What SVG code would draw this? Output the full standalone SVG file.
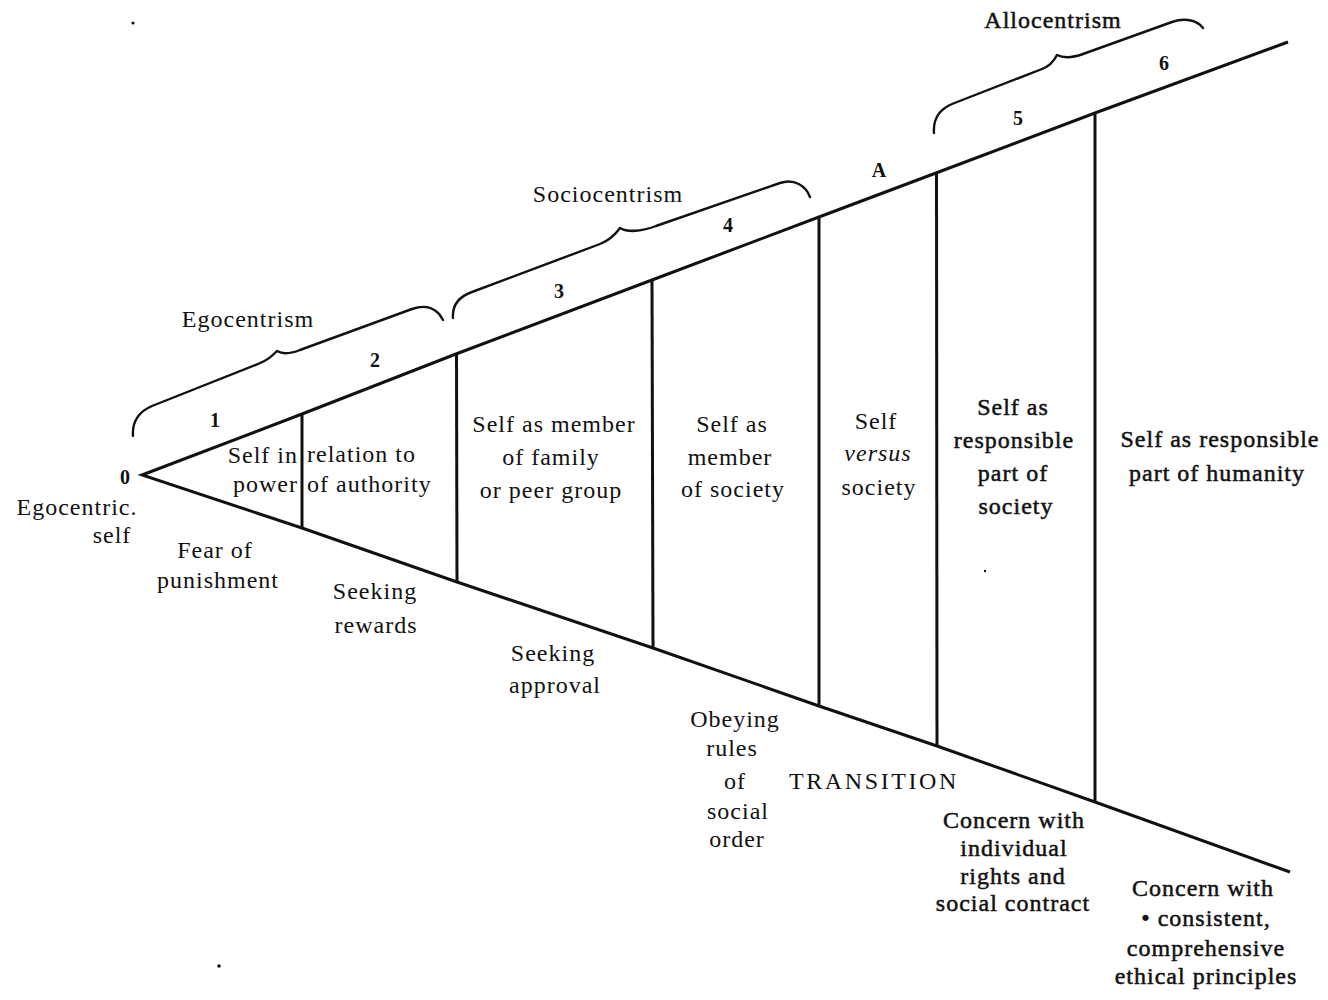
<svg xmlns="http://www.w3.org/2000/svg" width="1328" height="1000" viewBox="0 0 1328 1000">
  <style>
    .t { font-family: "Liberation Serif", "Times New Roman", serif; font-size: 24px; letter-spacing: 1px; fill: #111; text-anchor: middle; }
    .n { font-size: 20px; font-weight: bold; letter-spacing: 0; }
    .bold { stroke: #111; stroke-width: 0.5px; }
    .end { text-anchor: end; }
    .start { text-anchor: start; }
    .it { font-style: italic; }
    .wide { letter-spacing: 2.6px; }
    .ln { stroke: #111; stroke-width: 3; fill: none; stroke-linejoin: miter; stroke-linecap: butt; }
    .br { stroke: #111; stroke-width: 2.4; fill: none; stroke-linecap: round; stroke-linejoin: round; }
  </style>
  <rect width="1328" height="1000" fill="#fff"/>

  <!-- widening wedge: upper and lower edges from the apex -->
  <g id="wedge">
    <path class="ln" d="M 1288,42 L 1095,113 L 936,173 L 819,217 L 652,280 L 456,354 L 302,414 L 142,475 L 302,528 L 457,582 L 653,648 L 819,706 L 937,746 L 1095,802 L 1290,872"/>
  </g>

  <!-- stage dividers -->
  <g id="dividers">
    <line class="ln" x1="302" y1="414" x2="302" y2="528" stroke-width="2.6"/>
    <line class="ln" x1="456.5" y1="354" x2="457" y2="582"/>
    <line class="ln" x1="652" y1="280" x2="653" y2="648"/>
    <line class="ln" x1="819" y1="217" x2="819" y2="706"/>
    <line class="ln" x1="936.5" y1="173" x2="937" y2="746"/>
    <line class="ln" x1="1095" y1="113" x2="1095" y2="802"/>
  </g>

  <!-- braces grouping the stages -->
  <g id="braces">
    <path id="brace-ego" class="br" d="M 133,436 C 132,422 138,412 152,406 L 258,364 C 268,360 272,356 277,351 C 282,354 290,354 300,350 L 412,309 C 426,304 437,308 443,320"/>
    <path id="brace-socio" class="br" d="M 453,318 C 452,305 458,297 472,292 L 600,244 C 610,240 615,235 620,228 C 627,232 640,232 656,226 L 780,183 C 794,178 806,186 810,197"/>
    <path id="brace-allo" class="br" d="M 934,133 C 933,120 938,110 952,104 L 1042,69 C 1050,66 1054,61 1057,55 C 1063,58 1072,58 1083,54 L 1172,22 C 1186,17 1198,21 1203,28"/>
  </g>

  <g id="brace-labels">
    <text class="t" x="248" y="327">Egocentrism</text>
    <text class="t" x="608" y="202">Sociocentrism</text>
    <text class="t bold" x="1053" y="28">Allocentrism</text>
  </g>

  <!-- stage numbers along the upper edge -->
  <g id="stage-numbers">
    <text class="t n" x="125" y="484">0</text>
    <text class="t n" x="215" y="427">1</text>
    <text class="t n" x="375" y="367">2</text>
    <text class="t n" x="559" y="298">3</text>
    <text class="t n" x="728" y="232">4</text>
    <text class="t n" x="879" y="177">A</text>
    <text class="t n" x="1018" y="125">5</text>
    <text class="t n" x="1164" y="70">6</text>
  </g>

  <g id="stage-0">
    <text class="t" x="77" y="515">Egocentric.</text>
    <text class="t" x="112" y="543">self</text>
  </g>

  <g id="stage-1">
    <text class="t end" x="298" y="463">Self in</text>
    <text class="t end" x="298" y="492">power</text>
    <text class="t" x="215" y="558">Fear of</text>
    <text class="t" x="218" y="588">punishment</text>
  </g>

  <g id="stage-2">
    <text class="t start" x="307" y="462">relation to</text>
    <text class="t start" x="307" y="492">of authority</text>
    <text class="t" x="375" y="599">Seeking</text>
    <text class="t" x="376" y="633">rewards</text>
  </g>

  <g id="stage-3">
    <text class="t" x="554" y="432">Self as member</text>
    <text class="t" x="551" y="465">of family</text>
    <text class="t" x="551" y="498">or peer group</text>
    <text class="t" x="553" y="661">Seeking</text>
    <text class="t" x="555" y="693">approval</text>
  </g>

  <g id="stage-4">
    <text class="t" x="732" y="432">Self as</text>
    <text class="t" x="730" y="465">member</text>
    <text class="t" x="733" y="497">of society</text>
    <text class="t" x="735" y="727">Obeying</text>
    <text class="t" x="732" y="756">rules</text>
    <text class="t" x="735" y="789">of</text>
    <text class="t" x="738" y="819">social</text>
    <text class="t" x="737" y="847">order</text>
  </g>

  <g id="stage-A">
    <text class="t" x="876" y="429">Self</text>
    <text class="t it" x="878" y="461">versus</text>
    <text class="t" x="879" y="495">society</text>
    <text class="t wide" x="874" y="789">TRANSITION</text>
  </g>

  <g id="stage-5">
    <text class="t bold" x="1013" y="415">Self as</text>
    <text class="t bold" x="1014" y="448">responsible</text>
    <text class="t bold" x="1013" y="481">part of</text>
    <text class="t bold" x="1016" y="514">society</text>
    <text class="t bold" x="1014" y="828">Concern with</text>
    <text class="t bold" x="1014" y="856">individual</text>
    <text class="t bold" x="1013" y="884">rights and</text>
    <text class="t bold" x="1013" y="911">social contract</text>
  </g>

  <g id="stage-6">
    <text class="t bold" x="1220" y="447">Self as responsible</text>
    <text class="t bold" x="1217" y="481">part of humanity</text>
    <text class="t bold" x="1203" y="896">Concern with</text>
    <text class="t bold" x="1206" y="926">• consistent,</text>
    <text class="t bold" x="1206" y="956">comprehensive</text>
    <text class="t bold" x="1206" y="984">ethical principles</text>
  </g>

  <!-- stray print marks -->
  <g id="marks" fill="#111">
    <circle cx="133" cy="23" r="1.6"/>
    <circle cx="219" cy="966" r="1.8"/>
    <circle cx="985" cy="571" r="1.2"/>
  </g>
</svg>
